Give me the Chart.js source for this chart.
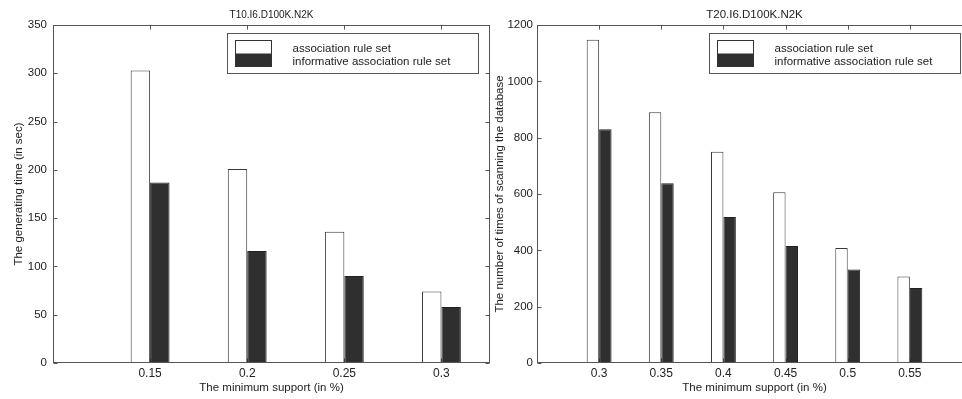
<!DOCTYPE html>
<html>
<head>
<meta charset="utf-8">
<script src="https://cdn.jsdelivr.net/npm/chart.js@4/dist/chart.umd.min.js"></script>
<style>
  html, body { margin: 0; padding: 0; background: #fff; width: 962px; height: 399px; overflow: hidden; }
  #wrap { position: relative; width: 962px; height: 399px; overflow: hidden; }
  canvas { position: absolute; top: 0; }
  #c1 { left: 0; }
  #c2 { left: 480px; }
</style>
</head>
<body>
<div id="wrap">
  <canvas id="c1" width="500" height="399"></canvas>
  <canvas id="c2" width="500" height="399"></canvas>
</div>
<script>
// ---- data ----
const seriesNames = ['association rule set', 'informative association rule set'];

const titleT10 = 'T10.I6.D100K.N2K';
const supportT10 = [0.15, 0.2, 0.25, 0.3];
const ruleSetTimeT10 = [303, 201, 136, 74];
const infoRuleSetTimeT10 = [187, 116, 90, 58];
const yTicksT10 = [0, 50, 100, 150, 200, 250, 300, 350];
const yTitleT10 = 'The generating time (in sec)';

const titleT20 = 'T20.I6.D100K.N2K';
const supportT20 = [0.3, 0.35, 0.4, 0.45, 0.5, 0.55];
const ruleSetScansT20 = [1148, 890, 750, 606, 408, 307];
const infoRuleSetScansT20 = [830, 638, 518, 415, 332, 266];
const yTicksT20 = [0, 200, 400, 600, 800, 1000, 1200];
const yTitleT20 = 'The number of times of scanning the database';

const xTitle = 'The minimum support (in %)';

// ---- styling ----
const FONT = '"Liberation Sans", Arial, Helvetica, sans-serif';
const TEXT = '#222';
const AXIS = '#555';
const DARK = '#2f2f2f';

Chart.defaults.font.family = FONT;
Chart.defaults.color = TEXT;

const framePlugin = {
  id: 'frameTicks',
  beforeDatasetsDraw(chart) {
    const { ctx, chartArea: a, scales: { x, y } } = chart;
    ctx.save();
    ctx.strokeStyle = AXIS;
    ctx.lineWidth = 1;
    const L = Math.round(a.left) + 0.5, R = Math.round(a.right) - 0.5;
    const T = Math.round(a.top) + 0.5, B = Math.round(a.bottom) - 0.5;
    ctx.beginPath();
    x.ticks.forEach(t => {
      const px = Math.round(x.getPixelForValue(t.value)) + 0.5;
      ctx.moveTo(px, T); ctx.lineTo(px, T + 4);
      ctx.moveTo(px, B); ctx.lineTo(px, B - 4);
    });
    y.ticks.forEach(t => {
      const py = Math.round(y.getPixelForValue(t.value)) + 0.5;
      ctx.moveTo(L, py); ctx.lineTo(L + 4, py);
      ctx.moveTo(R, py); ctx.lineTo(R - 4, py);
    });
    ctx.stroke();
    ctx.restore();
  },
  afterDraw(chart, args, opts) {
    const { ctx, chartArea: a } = chart;
    ctx.save();
    // title centred over the plot area
    ctx.fillStyle = TEXT;
    ctx.font = opts.titleSize + 'px ' + FONT;
    ctx.textAlign = 'center';
    ctx.textBaseline = 'middle';
    ctx.fillText(opts.title, (a.left + a.right) / 2, 15);

    ctx.strokeStyle = AXIS;
    ctx.lineWidth = 1;
    const L = Math.round(a.left) + 0.5, R = Math.round(a.right) - 0.5;
    const T = Math.round(a.top) + 0.5, B = Math.round(a.bottom) - 0.5;
    ctx.strokeRect(L, T, R - L, B - T);

    // legend box
    const w = 251, h = 40;
    const bx = Math.round(a.right - 12 - w) + 0.5, by = Math.round(a.top + 8) + 0.5;
    ctx.fillStyle = '#fff';
    ctx.fillRect(bx, by, w, h);
    ctx.strokeRect(bx, by, w, h);
    const ds = chart.data.datasets;
    const px = bx + 8, py = by + 7, pw = 36, ph = 13;
    ctx.fillStyle = ds[0].backgroundColor;
    ctx.fillRect(px, py, pw, ph);
    ctx.fillStyle = ds[1].backgroundColor;
    ctx.fillRect(px, py + ph, pw, ph);
    ctx.strokeStyle = '#333';
    ctx.strokeRect(px, py, pw, ph * 2);
    ctx.fillStyle = TEXT;
    ctx.font = '11.5px ' + FONT;
    ctx.textBaseline = 'middle';
    ctx.textAlign = 'left';
    ctx.fillText(ds[0].label, bx + 65, by + 15);
    ctx.fillText(ds[1].label, bx + 65, by + 28);
    ctx.restore();
  }
};

function makeChart(canvasId, cfg) {
  const pts = (xs, ys) => xs.map((v, i) => ({ x: v, y: ys[i] }));
  return new Chart(document.getElementById(canvasId), {
    type: 'bar',
    data: {
      datasets: [
        {
          label: seriesNames[0],
          data: pts(cfg.cats, cfg.a),
          backgroundColor: '#ffffff',
          borderColor: '#3a3a3a',
          borderWidth: 1,
          categoryPercentage: 0.4,
          barPercentage: 1.0
        },
        {
          label: seriesNames[1],
          data: pts(cfg.cats, cfg.b),
          backgroundColor: DARK,
          borderColor: '#222',
          borderWidth: 1,
          categoryPercentage: 0.4,
          barPercentage: 1.0
        }
      ]
    },
    options: {
      responsive: false,
      animation: false,
      devicePixelRatio: 1,
      layout: { padding: { left: 0, right: cfg.padRight, top: 25, bottom: 0 } },
      plugins: {
        legend: { display: false },
        tooltip: { enabled: false },
        title: { display: false },
        frameTicks: { title: cfg.title, titleSize: cfg.titleSize }
      },
      scales: {
        x: {
          type: 'linear',
          min: cfg.xMin,
          max: cfg.xMax,
          offset: false,
          grid: { display: false, drawTicks: false },
          border: { display: false },
          afterBuildTicks: s => { s.ticks = cfg.cats.map(v => ({ value: v })); },
          afterFit: s => { s.height = 36; },
          ticks: {
            autoSkip: false, maxRotation: 0, padding: 3,
            color: TEXT, font: { size: 12 },
            callback: v => String(v)
          },
          title: {
            display: true, text: xTitle, color: TEXT,
            font: { size: 11.5 }, padding: { top: 0, bottom: 4 }
          }
        },
        y: {
          type: 'linear',
          min: cfg.yTicks[0],
          max: cfg.yTicks[cfg.yTicks.length - 1],
          grid: { display: false, drawTicks: false },
          border: { display: false },
          afterBuildTicks: s => { s.ticks = cfg.yTicks.map(v => ({ value: v })); },
          afterFit: s => { s.width = cfg.yWidth; },
          ticks: { padding: cfg.yTickPad, color: TEXT, font: { size: 11.5 }, callback: v => String(v) },
          title: {
            display: true, text: cfg.yTitle, color: TEXT,
            font: { size: 11.5 }, padding: { top: cfg.yTitlePad, bottom: 0 }
          }
        }
      }
    },
    plugins: [framePlugin]
  });
}

makeChart('c1', {
  title: titleT10, titleSize: 10,
  cats: supportT10, a: ruleSetTimeT10, b: infoRuleSetTimeT10,
  xMin: 0.1, xMax: 0.325, yTicks: yTicksT10, yTitle: yTitleT10,
  yWidth: 53, yTickPad: 6, yTitlePad: 12, padRight: 10
});

makeChart('c2', {
  title: titleT20, titleSize: 11.5,
  cats: supportT20, a: ruleSetScansT20, b: infoRuleSetScansT20,
  xMin: 0.25, xMax: 0.6, yTicks: yTicksT20, yTitle: yTitleT20,
  yWidth: 57, yTickPad: 4, yTitlePad: 13, padRight: 8
});
</script>
</body>
</html>
